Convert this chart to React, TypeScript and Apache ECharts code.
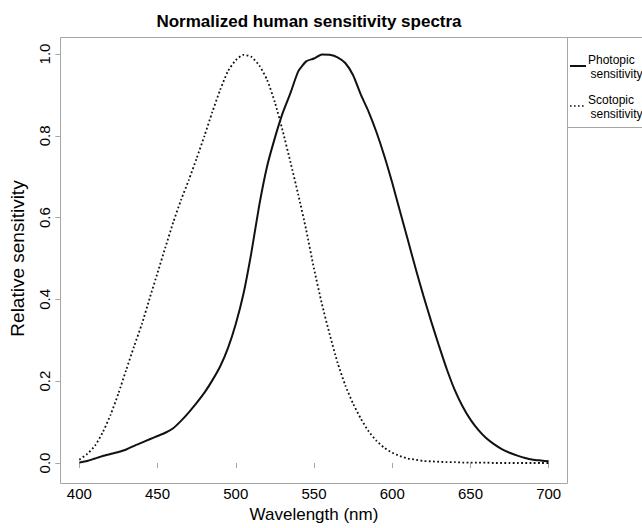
import React, { useEffect, useRef } from "react";
import * as echarts from "echarts";

const wavelengths = [
  400, 405, 410, 415, 420, 425, 430, 435, 440, 445, 450, 455, 460, 465, 470, 475, 480, 485, 490, 495,
  500, 505, 510, 515, 520, 525, 530, 535, 540, 545, 550, 555, 560, 565, 570, 575, 580, 585, 590, 595,
  600, 605, 610, 615, 620, 625, 630, 635, 640, 645, 650, 655, 660, 665, 670, 675, 680, 685, 690, 695, 700,
];

const photopic = [
  0.001, 0.005, 0.011, 0.017, 0.022, 0.027, 0.033, 0.042, 0.05, 0.058, 0.066, 0.074, 0.085, 0.103, 0.124, 0.147, 0.172, 0.202, 0.236, 0.281,
  0.34, 0.415, 0.515, 0.63, 0.725, 0.795, 0.856, 0.905, 0.958, 0.982, 0.989, 0.999, 0.998, 0.992, 0.978, 0.948, 0.9, 0.858, 0.808, 0.75,
  0.685, 0.615, 0.545, 0.475, 0.408, 0.345, 0.285, 0.228, 0.178, 0.138, 0.106, 0.081, 0.061, 0.046, 0.034, 0.025, 0.018, 0.012, 0.008, 0.006, 0.004,
];

const scotopic = [
  0.008, 0.022, 0.042, 0.075, 0.118, 0.17, 0.228, 0.285, 0.34, 0.403, 0.465, 0.527, 0.588, 0.643, 0.692, 0.745, 0.8, 0.858, 0.912, 0.958,
  0.985, 0.998, 0.993, 0.972, 0.937, 0.882, 0.812, 0.735, 0.655, 0.57, 0.475, 0.39, 0.315, 0.246, 0.19, 0.145, 0.108, 0.077, 0.054, 0.037,
  0.025, 0.017, 0.011, 0.008, 0.005, 0.004, 0.003, 0.002, 0.002, 0.001, 0.001, 0.001, 0.001, 0.0, 0.0, 0.0, 0.0, 0.0, 0.0, 0.0, 0.0,
];

const seriesNames = ["Photopic", "Scotopic"];
const xTicks = { min: 400, max: 700, step: 50 };
const yTicks = { min: 0, max: 1, step: 0.2 };

const FONT = "'Liberation Sans', Arial, sans-serif";
const GRAY = "#a6a6a6";

export default function App() {
  const ref = useRef<HTMLDivElement>(null);
  useEffect(() => {
    if (!ref.current) return;
    const chart = echarts.init(ref.current, null, { renderer: "svg" });
    const pData = wavelengths.map((w, i) => [w, photopic[i]]);
    const sData = wavelengths.map((w, i) => [w, scotopic[i]]);
    const legendText = (text: string, x: number, y: number) => ({
      type: "text",
      x,
      y,
      style: { text, fill: "#000", fontSize: 12, fontFamily: FONT, textAlign: "left", textVerticalAlign: "middle" },
    });
    chart.setOption({
      animation: false,
      backgroundColor: "#fff",
      textStyle: { fontFamily: FONT },
      grid: { left: 79.3, right: 93.3, top: 54, bottom: 61.3, containLabel: false },
      xAxis: {
        type: "value",
        min: xTicks.min,
        max: xTicks.max,
        interval: xTicks.step,
        offset: 17,
        axisLine: { show: false },
        axisTick: { show: true, length: 5, lineStyle: { color: GRAY, width: 1 } },
        axisLabel: { color: "#000", fontSize: 15, margin: 6, fontFamily: FONT },
        splitLine: { show: false },
        name: "Wavelength (nm)",
        nameLocation: "middle",
        nameGap: 26,
        nameTextStyle: { color: "#000", fontSize: 17, fontFamily: FONT },
      },
      yAxis: {
        type: "value",
        min: yTicks.min,
        max: yTicks.max,
        interval: yTicks.step,
        offset: 19,
        axisLine: { show: false },
        axisTick: { show: true, length: 5, lineStyle: { color: GRAY, width: 1 } },
        axisLabel: {
          color: "#000",
          fontSize: 15,
          margin: 8,
          rotate: 90,
          fontFamily: FONT,
          formatter: (v: number) => v.toFixed(1),
        },
        splitLine: { show: false },
        name: "Relative sensitivity",
        nameLocation: "middle",
        nameGap: 33,
        nameTextStyle: { color: "#000", fontSize: 19, fontFamily: FONT },
      },
      series: [
        {
          name: seriesNames[0],
          type: "line",
          data: pData,
          showSymbol: false,
          smooth: 0.2,
          lineStyle: { color: "#111", width: 2 },
          z: 3,
        },
        {
          name: seriesNames[1],
          type: "line",
          data: sData,
          showSymbol: false,
          smooth: 0.2,
          lineStyle: { color: "#111", width: 1.8, type: [1.8, 2.4] },
          z: 2,
        },
      ],
      graphic: [
        {
          type: "rect",
          shape: { x: 60.5, y: 37.5, width: 507, height: 446 },
          style: { fill: "none", stroke: GRAY, lineWidth: 1 },
          silent: true,
        },
        {
          type: "rect",
          shape: { x: 567.5, y: 37.5, width: 80, height: 90 },
          style: { fill: "none", stroke: GRAY, lineWidth: 1 },
          silent: true,
        },
        {
          type: "line",
          shape: { x1: 570, y1: 66, x2: 586, y2: 66 },
          style: { stroke: "#111", lineWidth: 2 },
        },
        {
          type: "line",
          shape: { x1: 570, y1: 106, x2: 586, y2: 106 },
          style: { stroke: "#111", lineWidth: 1.6, lineDash: [1.6, 2.4] },
        },
        legendText("Photopic", 588, 60),
        legendText("sensitivity", 590.5, 74),
        legendText("Scotopic", 588, 99.5),
        legendText("sensitivity", 590.5, 113.5),
        {
          type: "text",
          x: 309,
          y: 21,
          style: {
            text: "Normalized human sensitivity spectra",
            fill: "#000",
            fontSize: 17,
            fontWeight: "bold",
            fontFamily: FONT,
            textAlign: "center",
            textVerticalAlign: "middle",
          },
        },
      ],
    });
    return () => chart.dispose();
  }, []);
  return <div ref={ref} style={{ width: 642, height: 528, position: "absolute", left: 0, top: 0 }} />;
}
